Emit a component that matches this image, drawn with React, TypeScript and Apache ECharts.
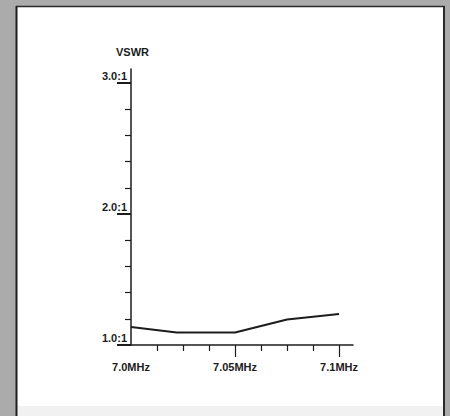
import React, { useEffect, useRef } from "react";
import * as echarts from "echarts";

const freqMHz = [7.0, 7.022, 7.05, 7.075, 7.1];
const vswr = [1.137, 1.095, 1.095, 1.195, 1.237];
const xMinorTicks = [7.0125, 7.025, 7.0375, 7.0625, 7.075, 7.0875];
const xMajorTicks = [7.05, 7.1];
const xLabels = [7.0, 7.05, 7.1];
const xLabelText: Record<string, string> = { "7": "7.0MHz", "7.05": "7.05MHz", "7.1": "7.1MHz" };
const yMinorTicks = [1.2, 1.4, 1.6, 1.8, 2.2, 2.4, 2.6, 2.8];
const yMajorTicks = [1, 2, 3];
const yLabels = [1, 2, 3];
const yTitle = "VSWR";

const FONT = "'Liberation Sans', Arial, sans-serif";
const INK = "#1c1c1c";

export default function App() {
  const ref = useRef<HTMLDivElement>(null);
  useEffect(() => {
    if (!ref.current) return;
    const chart = echarts.init(ref.current, undefined, { renderer: "svg" });
    const xBase = { type: "value" as const, min: 7.0, max: 7.1067, position: "bottom" as const, splitLine: { show: false } };
    const yBase = { type: "value" as const, min: 1.0, max: 3.107, position: "left" as const, splitLine: { show: false } };
    chart.setOption({
      animation: false,
      backgroundColor: "#ababab",
      graphic: [
        { type: "rect", z: -10, shape: { x: 17, y: 7, width: 427, height: 399 }, style: { fill: "#ffffff" } },
        { type: "rect", z: -10, shape: { x: 17, y: 406, width: 427, height: 10 }, style: { fill: "#f1f1f1" } },
        { type: "line", z: -9, shape: { x1: 16, y1: 6.5, x2: 445, y2: 6.5 }, style: { stroke: "#2a2a2a", lineWidth: 1.5 } },
        { type: "line", z: -9, shape: { x1: 16.5, y1: 6, x2: 16.5, y2: 416 }, style: { stroke: "#1e1e1e", lineWidth: 2 } },
        { type: "line", z: -9, shape: { x1: 444, y1: 6, x2: 444, y2: 416 }, style: { stroke: "#2a2a2a", lineWidth: 2 } },
        {
          type: "text",
          left: 116,
          top: 46,
          style: { text: yTitle, fill: INK, font: `bold 11px ${FONT}` },
        },
      ],
      grid: { left: 131, right: 97, top: 69, bottom: 71, containLabel: false },
      xAxis: [
        {
          ...xBase,
          axisLine: { show: true, lineStyle: { color: INK, width: 1.5 } },
          axisTick: { show: true, length: 6, customValues: xMinorTicks, lineStyle: { color: INK, width: 1.2 } },
          axisLabel: {
            show: true,
            customValues: xLabels,
            margin: 16,
            color: INK,
            fontFamily: FONT,
            fontWeight: "bold",
            fontSize: 11,
            formatter: (v: number) => xLabelText[String(v)] ?? String(v),
          },
        },
        {
          ...xBase,
          axisLine: { show: false },
          axisTick: { show: true, length: 12, customValues: xMajorTicks, lineStyle: { color: INK, width: 1.2 } },
          axisLabel: { show: false },
        },
      ],
      yAxis: [
        {
          ...yBase,
          axisLine: { show: true, lineStyle: { color: INK, width: 1.5 } },
          axisTick: { show: true, length: 6, customValues: yMinorTicks, lineStyle: { color: INK, width: 1.2 } },
          axisLabel: {
            show: true,
            customValues: yLabels,
            margin: 4,
            color: INK,
            fontFamily: FONT,
            fontWeight: "bold",
            fontSize: 11,
            verticalAlign: "bottom",
            padding: [0, 0, 2, 0],
            formatter: (v: number) => `${v.toFixed(1)}:1`,
          },
        },
        {
          ...yBase,
          axisLine: { show: false },
          axisTick: { show: true, length: 14, customValues: yMajorTicks, lineStyle: { color: INK, width: 2 } },
          axisLabel: { show: false },
        },
      ],
      series: [
        {
          type: "line",
          xAxisIndex: 0,
          yAxisIndex: 0,
          data: freqMHz.map((f, i) => [f, vswr[i]]),
          showSymbol: false,
          lineStyle: { color: INK, width: 2 },
        },
      ],
    });
    return () => chart.dispose();
  }, []);
  return <div ref={ref} style={{ position: "fixed", left: 0, top: 0, width: 450, height: 416 }} />;
}
